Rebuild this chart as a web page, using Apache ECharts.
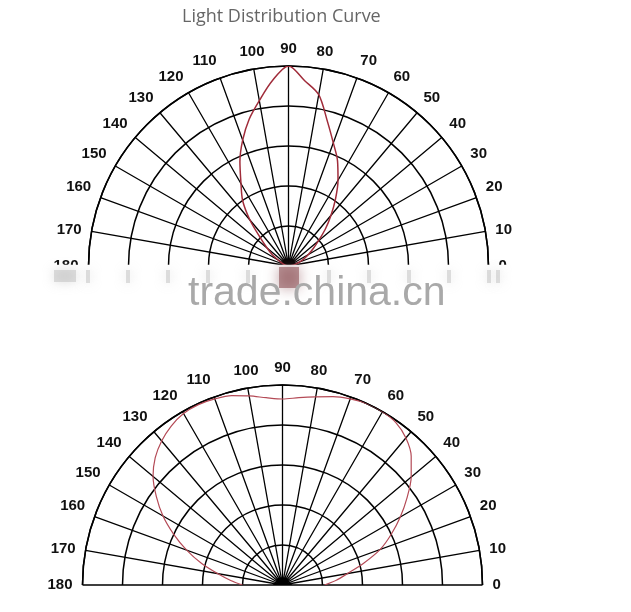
<!DOCTYPE html>
<html>
<head>
<meta charset="utf-8">
<script src="https://cdn.jsdelivr.net/npm/echarts@6/dist/echarts.min.js"></script>
<style>html,body{margin:0;padding:0;background:#fff;}#main{width:631px;height:612px;}</style>
</head>
<body>
<div id="main"></div>
<script>
// angle in degrees (0 = right, 180 = left)
const angles = [0,5,10,15,20,25,30,35,40,45,50,55,60,65,70,75,80,85,90,95,100,105,110,115,120,125,130,135,140,145,150,155,160,165,170,175,180];
// relative intensity (%) - narrow beam (top chart)
const narrowBeam = [0,1,2.5,4,6,8.5,11.5,15,19.5,26,33,41,49.5,58,65.5,75,87,93,100,93,84,76,67,57.5,47.5,40,30,20,14,10,6,4,2.5,1.5,1,0.5,0];
// relative intensity (%) - wide beam (bottom chart)
const wideBeam = [21,27,33,42,52,60,68,76,84,91,96,99,100,100,99,97.5,95.5,94,93,94,96,98,99,99.5,99,97,94,90,84.5,77,69,60,51,42,33,26,20];
const angleTicks = [0,10,20,30,40,50,60,70,80,90,100,110,120,130,140,150,160,170,180];
const titleText = 'Light Distribution Curve';
const watermarkText = 'trade.china.cn';

const chart = echarts.init(document.getElementById('main'), null, {renderer: 'canvas'});

function pairs(vals) { return vals.map((v, i) => [v, angles[i]]); }

const gridColor = '#000';
function angleAxisCfg(idx) {
  return {
    polarIndex: idx,
    type: 'value',
    min: angleTicks[0],
    max: angleTicks[angleTicks.length - 1],
    interval: 10,
    startAngle: 0,
    endAngle: 180,
    clockwise: false,
    axisLine: {show: true, lineStyle: {color: gridColor, width: 1.5}},
    axisTick: {show: false},
    splitLine: {show: true, lineStyle: {color: gridColor, width: 1.3}},
    axisLabel: {
      show: true, margin: 10, color: '#111', fontSize: 15, fontWeight: 'bold',
      fontFamily: 'Liberation Sans, Arial, sans-serif'
    }
  };
}
function radiusAxisCfg(idx) {
  return {
    polarIndex: idx,
    type: 'value', min: 0, max: 100, interval: 20,
    axisLine: {show: false}, axisTick: {show: false}, axisLabel: {show: false},
    splitLine: {show: true, lineStyle: {color: gridColor, width: 1.5}}
  };
}

const streakXs = [88, 128, 168, 208, 248, 329, 369, 409, 449, 489, 498];

chart.setOption({
  animation: false,
  backgroundColor: '#fff',
  title: {
    text: titleText, left: 177, top: 3,
    textStyle: {color: '#666', fontSize: 18, fontWeight: 'normal', fontFamily: 'Open Sans, Noto Sans, sans-serif'}
  },
  polar: [
    {center: [288.5, 266], radius: 200},
    {center: [282.5, 585], radius: 200}
  ],
  angleAxis: [angleAxisCfg(0), angleAxisCfg(1)],
  radiusAxis: [radiusAxisCfg(0), radiusAxisCfg(1)],
  series: [
    {
      type: 'line', coordinateSystem: 'polar', polarIndex: 0,
      data: pairs(narrowBeam), symbol: 'none', smooth: 0.3,
      lineStyle: {color: '#a02c3a', width: 1.5}, z: 5
    },
    {
      type: 'line', coordinateSystem: 'polar', polarIndex: 1,
      data: pairs(wideBeam), symbol: 'none', smooth: 0.3,
      lineStyle: {color: '#b44a56', width: 1.2}, z: 5
    }
  ],
  graphic: [
    {type: 'rect', z: 100, shape: {x: 0, y: 264.8, width: 631, height: 54}, style: {fill: '#fff'}},
    ...streakXs.map(x => ({
      type: 'rect', z: 101, shape: {x: x - 2, y: 270, width: 4, height: 13},
      style: {fill: 'rgba(185,185,185,0.45)', shadowBlur: 12, shadowColor: 'rgba(175,175,175,0.9)'}
    })),
    {type: 'rect', z: 101, shape: {x: 54, y: 270, width: 22, height: 12},
      style: {fill: 'rgba(185,185,185,0.45)', shadowBlur: 12, shadowColor: 'rgba(175,175,175,0.9)'}},
    {type: 'rect', z: 101, shape: {x: 279, y: 267, width: 20, height: 21},
      style: {fill: 'rgba(140,80,85,0.6)', shadowBlur: 14, shadowColor: 'rgba(140,80,85,0.9)'}},
    {type: 'text', z: 102, left: 188, top: 273,
      style: {text: watermarkText, fill: '#a9a9a9', font: '41px "Liberation Sans", Arial, sans-serif'}}
  ]
});
</script>
</body>
</html>
